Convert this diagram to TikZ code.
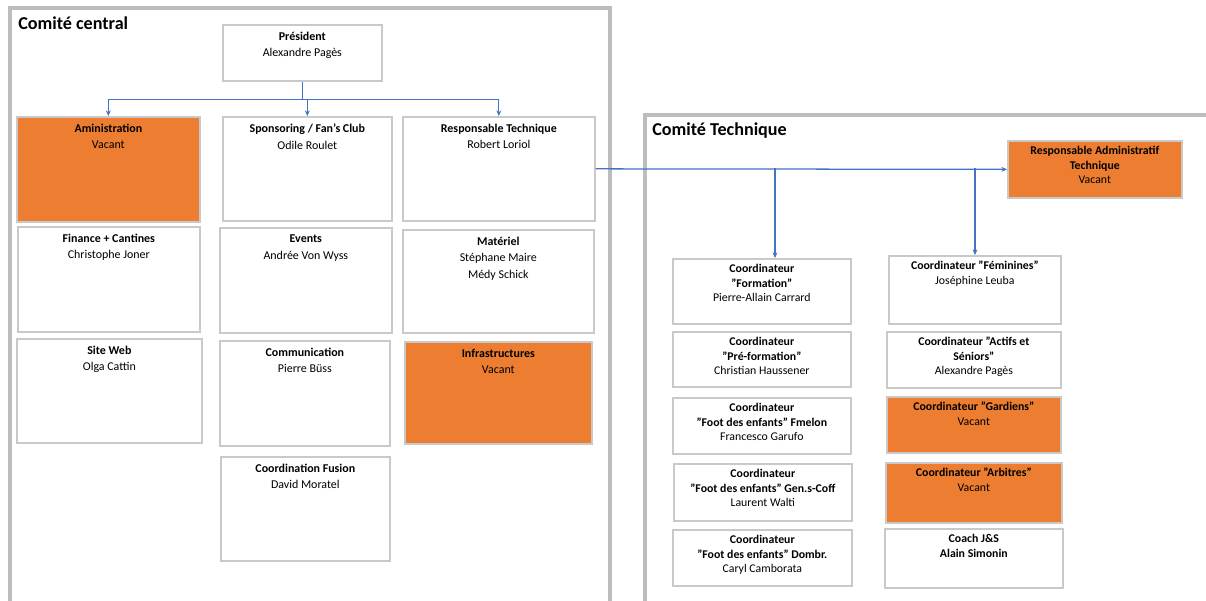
\documentclass[tikz,border=0pt]{standalone}
\usepackage{fontspec}
\setmainfont{Carlito}
\usetikzlibrary{arrows.meta}

\definecolor{vacant}{HTML}{ED7D31}
\definecolor{link}{HTML}{4472C4}
\definecolor{frame}{HTML}{BDBDBD}
\definecolor{edge}{HTML}{C9C9C9}

\newdimen\px \px=0.025cm
% box content: width, height, text (kept at the top)
\newcommand{\bx}[3]{\parbox[t][#2\px][t]{#1\px}{\centering\vspace*{\toppad}#3}}
\def\toppad{7\px}

\tikzset{bb/.style={draw=edge, line width=1.2pt, fill=white, inner sep=0pt, anchor=north west, font=\fontsize{8.5}{11.8}\selectfont},
    sb/.style={bb, font=\fontsize{8.4}{10.3}\selectfont\def\toppad{5.5\px}},
    vac/.style={fill=vacant},
    panel/.style={draw=frame, line width=3.2pt},
    ptitle/.style={anchor=north west, inner sep=0pt, font=\fontsize{12.9}{14}\selectfont\bfseries},
    conn/.style={draw=link, line width=0.9pt}}

\begin{document}
\begin{tikzpicture}[x=0.025cm, y=-0.025cm, >={Stealth[length=4pt, width=3.5pt]}]
    \useasboundingbox (0,0) rectangle (1206,600);
    \clip (0,0) rectangle (1206,600);

    % panels
    \draw[panel] (10,8) rectangle (610,650);
    \draw[panel] (645,115) rectangle (1209,650);
    \node[ptitle] (central) at (18,16) {Comité central};
    \node[ptitle] (technique) at (652,122) {Comité Technique};

    % Comite central
    \node[bb] (pres) at (222,24) {\bx{159}{56}{\textbf{Président}\\Alexandre Pagès}};

    \node[bb, vac] (admin) at (16,116) {\bx{183}{105}{\textbf{Aministration}\\Vacant}};
    \node[bb] (spons) at (222,116) {\bx{169}{104}{\textbf{Sponsoring / Fan's Club}\\Odile Roulet}};
    \node[bb] (resp) at (402,116) {\bx{192}{104}{\textbf{Responsable Technique}\\Robert Loriol}};

    \node[bb] (fin) at (17,226) {\bx{182}{105}{\textbf{Finance + Cantines}\\Christophe Joner}};
    \node[bb] (events) at (219,227) {\bx{172}{105}{\textbf{Events}\\Andrée Von Wyss}};
    \node[bb] (mat) at (402,229) {\bx{191}{103}{\textbf{Matériel}\\Stéphane Maire\\Médy Schick}};

    \node[bb] (web) at (16,338) {\bx{185}{104}{\textbf{Site Web}\\Olga Cattin}};
    \node[bb] (comm) at (219,340) {\bx{170}{105}{\textbf{Communication}\\Pierre Büss}};
    \node[bb, vac] (infra) at (404,341) {\bx{187}{102}{\textbf{Infrastructures}\\Vacant}};

    \node[bb] (fusion) at (220,456) {\bx{169}{104}{\textbf{Coordination Fusion}\\David Moratel}};

    % Comite technique
    \node[sb, vac] (rat) at (1007,140) {\bx{174}{57}{\textbf{Responsable Administratif}\\\textbf{Technique}\\Vacant}};

    \node[sb] (form) at (672,258) {\bx{178}{65}{\textbf{Coordinateur}\\\textbf{"Formation"}\\Pierre-Allain Carrard}};
    \node[sb] (preform) at (672,331) {\bx{178}{55}{\textbf{Coordinateur}\\\textbf{"Pré-formation"}\\Christian Haussener}};
    \node[sb] (fmelon) at (672,397) {\bx{178}{56}{\textbf{Coordinateur}\\\textbf{"Foot des enfants" Fmelon}\\Francesco Garufo}};
    \node[sb] (gens) at (673,463) {\bx{178}{57}{\textbf{Coordinateur}\\\textbf{"Foot des enfants" Gen.s-Coff}\\Laurent Walti}};
    \node[sb] (dombr) at (672,529) {\bx{179}{56}{\textbf{Coordinateur}\\\textbf{"Foot des enfants" Dombr.}\\Caryl Camborata}};

    \node[sb] (fem) at (888,255) {\bx{172}{68}{\textbf{Coordinateur "Féminines"}\\Joséphine Leuba}};
    \node[sb] (actifs) at (886,331) {\bx{174}{56}{\textbf{Coordinateur "Actifs et}\\\textbf{Séniors"}\\Alexandre Pagès}};
    \node[sb, vac] (gard) at (886,396) {\bx{174}{56}{\textbf{Coordinateur "Gardiens"}\\Vacant}};
    \node[sb, vac] (arb) at (885,462) {\bx{176}{60}{\textbf{Coordinateur "Arbitres"}\\Vacant}};
    \node[sb] (coach) at (884,528) {\bx{178}{59}{\textbf{Coach J\&S}\\\textbf{Alain Simonin}}};

    % links
    \path (pres.south) ++(0,18) coordinate (bus);
    \draw[conn] (pres.south) -- (bus);
    \draw[conn, ->] (bus) -| (admin.north);
    \draw[conn, ->] (bus) -| (spons.north);
    \draw[conn, ->] (bus) -| (resp.north);

    \draw[conn, ->] (resp.east) -- (rat.west);
    \coordinate (tapa) at (775,168);
    \coordinate (tapb) at (975,168);
    \draw[conn, ->] (tapa) -- (tapa |- form.north);
    \draw[conn, ->] (tapb) -- (tapb |- fem.north);
\end{tikzpicture}
\end{document}
